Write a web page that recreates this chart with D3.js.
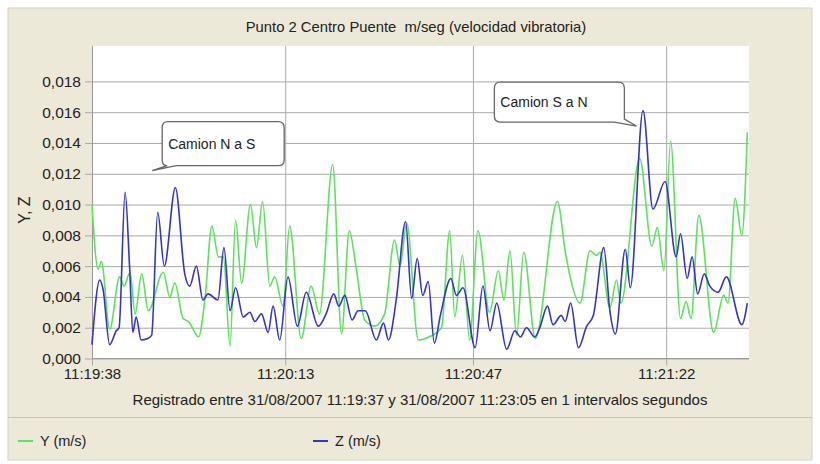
<!DOCTYPE html>
<html>
<head>
<meta charset="utf-8">
<script src="https://cdn.jsdelivr.net/npm/d3@7"></script>
<style>
body { margin: 0; background: #fff; }
svg text { font-family: "Liberation Sans", Arial, sans-serif; fill: #222; white-space: pre; }
</style>
</head>
<body>
<svg id="chart" width="820" height="464"></svg>
<script>
// Datos (segundos desde 11:19:38, valores en m/s)
var startTime = "11:19:38";
var endSecond = 119;
var xTickLabels = ["11:19:38", "11:20:13", "11:20:47", "11:21:22"];
var yTicks = [0, 0.002, 0.004, 0.006, 0.008, 0.010, 0.012, 0.014, 0.016, 0.018];

var ySeconds = [0, 1.1, 1.7, 3.2, 5.0, 5.8, 6.9, 7.8, 9.0, 10.2, 12.9, 14.1, 15.0, 16.5, 17.5, 19.3, 20.5, 21.7, 22.9, 23.8,
  25.0, 26.0, 27.1, 28.7, 29.8, 30.9, 32.2, 33.1, 34.6, 35.8, 37.9, 39.7, 41.2, 43.6, 45.2, 46.6, 47.8, 49.4, 51.2, 53.0,
  54.8, 55.8, 57.0, 59.1, 61.0, 63.3, 64.8, 65.7, 67.1, 68.4, 69.9, 72.0, 73.6, 74.6, 75.7, 76.9, 78.2, 80.3, 84.3, 85.7,
  86.6, 88.4, 90.2, 91.4, 92.0, 93.8, 95.0, 95.8, 99.2, 101.4, 102.4, 103.6, 104.8, 106.6, 107.6, 108.5, 109.9, 112.6, 114.4, 115.2,
  116.5, 117.7, 118.7];
var yValues = [0.0100, 0.0058, 0.0063, 0.0019, 0.0053, 0.0047, 0.0056, 0.0029, 0.0055, 0.0031, 0.0056, 0.0040, 0.0049, 0.0026, 0.0024, 0.0014, 0.0040, 0.0086, 0.0066, 0.0066,
  0.0008, 0.0090, 0.0049, 0.0100, 0.0072, 0.0102, 0.0047, 0.0053, 0.0034, 0.0086, 0.0013, 0.0047, 0.0029, 0.0126, 0.0016, 0.0083, 0.0060, 0.0025, 0.0021, 0.0029,
  0.0077, 0.0060, 0.0088, 0.0012, 0.0014, 0.0020, 0.0083, 0.0027, 0.0067, 0.0012, 0.0083, 0.0030, 0.0057, 0.0038, 0.0070, 0.0015, 0.0069, 0.0013, 0.0102, 0.0070,
  0.0053, 0.0036, 0.0070, 0.0067, 0.0069, 0.0033, 0.0051, 0.0036, 0.0130, 0.0073, 0.0085, 0.0057, 0.0141, 0.0026, 0.0037, 0.0026, 0.0093, 0.0017, 0.0041, 0.0036,
  0.0104, 0.0080, 0.0147];

var zSeconds = [0, 1.4, 2.0, 3.2, 4.4, 4.9, 6.0, 6.8, 7.4, 8.0, 8.9, 10.1, 10.8, 11.9, 13.1, 15.1, 16.8, 17.7, 18.9, 20.1,
  21.0, 22.8, 23.9, 25.0, 26.0, 27.4, 28.6, 29.5, 30.7, 31.9, 32.8, 34.0, 35.5, 37.2, 38.8, 41.0, 42.4, 43.8, 44.7, 45.8,
  47.1, 48.2, 49.5, 51.5, 52.8, 53.7, 55.1, 56.8, 57.9, 58.9, 59.9, 60.9, 62.0, 63.1, 65.0, 66.0, 67.2, 69.4, 70.8, 72.1,
  73.3, 75.1, 76.6, 77.6, 78.7, 80.2, 81.1, 82.5, 83.5, 85.0, 85.7, 86.7, 88.1, 89.6, 90.8, 92.7, 93.8, 94.8, 96.6, 97.5,
  99.8, 101.6, 103.8, 105.8, 106.6, 107.8, 108.7, 109.7, 110.9, 111.9, 113.4, 114.9, 117.7, 118.7];
var zValues = [0.0009, 0.0051, 0.0045, 0.0009, 0.0018, 0.0020, 0.0108, 0.0060, 0.0017, 0.0027, 0.0012, 0.0013, 0.0015, 0.0095, 0.0060, 0.0111, 0.0055, 0.0047, 0.0060, 0.0038,
  0.0042, 0.0038, 0.0072, 0.0031, 0.0046, 0.0027, 0.0030, 0.0024, 0.0029, 0.0017, 0.0034, 0.0012, 0.0053, 0.0021, 0.0043, 0.0021, 0.0029, 0.0042, 0.0034, 0.0041,
  0.0025, 0.0031, 0.0031, 0.0012, 0.0023, 0.0012, 0.0038, 0.0089, 0.0039, 0.0065, 0.0041, 0.0050, 0.0010, 0.0028, 0.0052, 0.0041, 0.0046, 0.0007, 0.0047, 0.0018,
  0.0036, 0.0006, 0.0018, 0.0014, 0.0020, 0.0014, 0.0020, 0.0034, 0.0022, 0.0028, 0.0024, 0.0036, 0.0007, 0.0021, 0.0028, 0.0072, 0.0031, 0.0016, 0.0071, 0.0046,
  0.0161, 0.0097, 0.0115, 0.0066, 0.0081, 0.0052, 0.0066, 0.0042, 0.0055, 0.0047, 0.0043, 0.0053, 0.0022, 0.0036];

var notes = [
  { text: "Camion N a S", second: 10.9, value: 0.0122, side: "left" },
  { text: "Camion S a N", second: 98.6, value: 0.0151, side: "right" }
];

var seriesNames = ["Y (m/s)", "Z (m/s)"];
var seriesColors = ["#5ce25c", "#3434c8"];

var W = 820, H = 464;
var plot = { left: 92, right: 749, top: 46, bottom: 358.5 };

var parseTime = d3.timeParse("%H:%M:%S");
var t0 = parseTime(startTime);
function atSecond(s) { return new Date(t0.getTime() + s * 1000); }

var x = d3.scaleTime().domain([t0, atSecond(endSecond)]).range([plot.left, plot.right]);
var y = d3.scaleLinear().domain([0, 0.0203]).range([plot.bottom, plot.top]);

var svg = d3.select("#chart");

// fondo
svg.append("rect").attr("x", 8).attr("y", 8).attr("width", W - 16).attr("height", H - 12)
  .attr("fill", "#ece9d8").attr("stroke", "#d6d2bf");
svg.append("line").attr("x1", 8).attr("x2", W - 8).attr("y1", 417.5).attr("y2", 417.5)
  .attr("stroke", "#c9c5b1");
svg.append("rect").attr("x", plot.left).attr("y", plot.top)
  .attr("width", plot.right - plot.left).attr("height", plot.bottom - plot.top).attr("fill", "#fff");

// titulo
svg.append("text").attr("x", 416).attr("y", 32).attr("text-anchor", "middle")
  .style("font-size", "14.8px").text("Punto 2 Centro Puente  m/seg (velocidad vibratoria)");

// rejilla y ejes
var fmtY = function (d) { return d3.format(".3f")(d).replace(".", ","); };
var yAxis = d3.axisLeft(y).tickValues(yTicks).tickFormat(fmtY)
  .tickSize(-(plot.right - plot.left + 7)).tickPadding(4);
var gy = svg.append("g").attr("transform", "translate(" + (plot.left - 7) + ",0)").call(yAxis);
gy.select(".domain").remove();
gy.selectAll(".tick line").attr("stroke", "#a9a9a9");
gy.selectAll(".tick text").style("font-size", "15.5px").attr("fill", "#333");

var xAxis = d3.axisBottom(x).tickValues(xTickLabels.map(parseTime))
  .tickFormat(d3.timeFormat("%H:%M:%S"))
  .tickSize(-(plot.bottom - plot.top + 7)).tickPadding(3);
var gx = svg.append("g").attr("transform", "translate(0," + (plot.bottom + 7) + ")").call(xAxis);
gx.select(".domain").remove();
gx.selectAll(".tick line").attr("stroke", "#a9a9a9");
gx.selectAll(".tick text").style("font-size", "15px").attr("fill", "#333");

svg.append("line").attr("x1", plot.left + 0.5).attr("x2", plot.left + 0.5)
  .attr("y1", plot.top).attr("y2", plot.bottom).attr("stroke", "#999");
svg.append("line").attr("x1", plot.left).attr("x2", plot.right)
  .attr("y1", plot.bottom).attr("y2", plot.bottom).attr("stroke", "#999");

svg.append("text").attr("transform", "translate(30,210) rotate(-90)").attr("text-anchor", "middle")
  .style("font-size", "16px").attr("fill", "#333").text("Y, Z");

svg.append("text").attr("x", 420).attr("y", 405).attr("text-anchor", "middle")
  .style("font-size", "15px")
  .text("Registrado entre 31/08/2007 11:19:37 y 31/08/2007 11:23:05 en 1 intervalos segundos");

// series
var line = d3.line()
  .x(function (d) { return x(atSecond(d[0])); })
  .y(function (d) { return y(d[1]); })
  .curve(d3.curveMonotoneX);

var series = [d3.zip(ySeconds, yValues), d3.zip(zSeconds, zValues)];
svg.append("g").selectAll("path").data(series).enter().append("path")
  .attr("d", line)
  .attr("fill", "none")
  .attr("stroke", function (d, i) { return seriesColors[i]; })
  .attr("stroke-width", 1.6)
  .attr("stroke-linejoin", "round");

// globos de texto
notes.forEach(function (n) {
  var tx = x(atSecond(n.second)), ty = y(n.value);
  var w, h = n.side === "left" ? 44 : 40, x0, y0, r = 6, p;
  if (n.side === "left") {
    w = 122; x0 = tx + 10; y0 = ty - 49;
    var x1 = x0 + w, y1 = y0 + h;
    p = "M" + (x0 + r) + "," + y0 + "H" + (x1 - r) + "Q" + x1 + "," + y0 + " " + x1 + "," + (y0 + r) +
      "V" + (y1 - r) + "Q" + x1 + "," + y1 + " " + (x1 - r) + "," + y1 +
      "H" + (x0 + 14) + "L" + tx + "," + ty + "L" + (x0 + 5) + "," + y1 +
      "Q" + x0 + "," + y1 + " " + x0 + "," + (y1 - r) + "V" + (y0 + r) + "Q" + x0 + "," + y0 + " " + (x0 + r) + "," + y0 + "Z";
  } else {
    w = 130; x0 = tx - 12 - w; y0 = ty - 44;
    var x1 = x0 + w, y1 = y0 + h;
    p = "M" + (x0 + r) + "," + y0 + "H" + (x1 - r) + "Q" + x1 + "," + y0 + " " + x1 + "," + (y0 + r) +
      "V" + (y1 - 3) + "L" + tx + "," + ty + "L" + (x1 - 10) + "," + y1 +
      "H" + (x0 + r) + "Q" + x0 + "," + y1 + " " + x0 + "," + (y1 - r) + "V" + (y0 + r) +
      "Q" + x0 + "," + y0 + " " + (x0 + r) + "," + y0 + "Z";
  }
  svg.append("path").attr("d", p).attr("fill", "#fff").attr("stroke", "#666").attr("stroke-width", 1.3);
  svg.append("text").attr("x", x0 + 6).attr("y", y0 + h / 2 + 5)
    .style("font-size", "14px").attr("fill", "#333").text(n.text);
});

// leyenda
var legendX = [18, 313];
seriesNames.forEach(function (name, i) {
  var g = svg.append("g").attr("transform", "translate(" + legendX[i] + ",441)");
  g.append("line").attr("x1", 0).attr("x2", 15).attr("stroke", seriesColors[i]).attr("stroke-width", 2);
  g.append("text").attr("x", 22).attr("y", 5).style("font-size", "14.5px").attr("fill", "#333").text(name);
});
</script>
</body>
</html>
